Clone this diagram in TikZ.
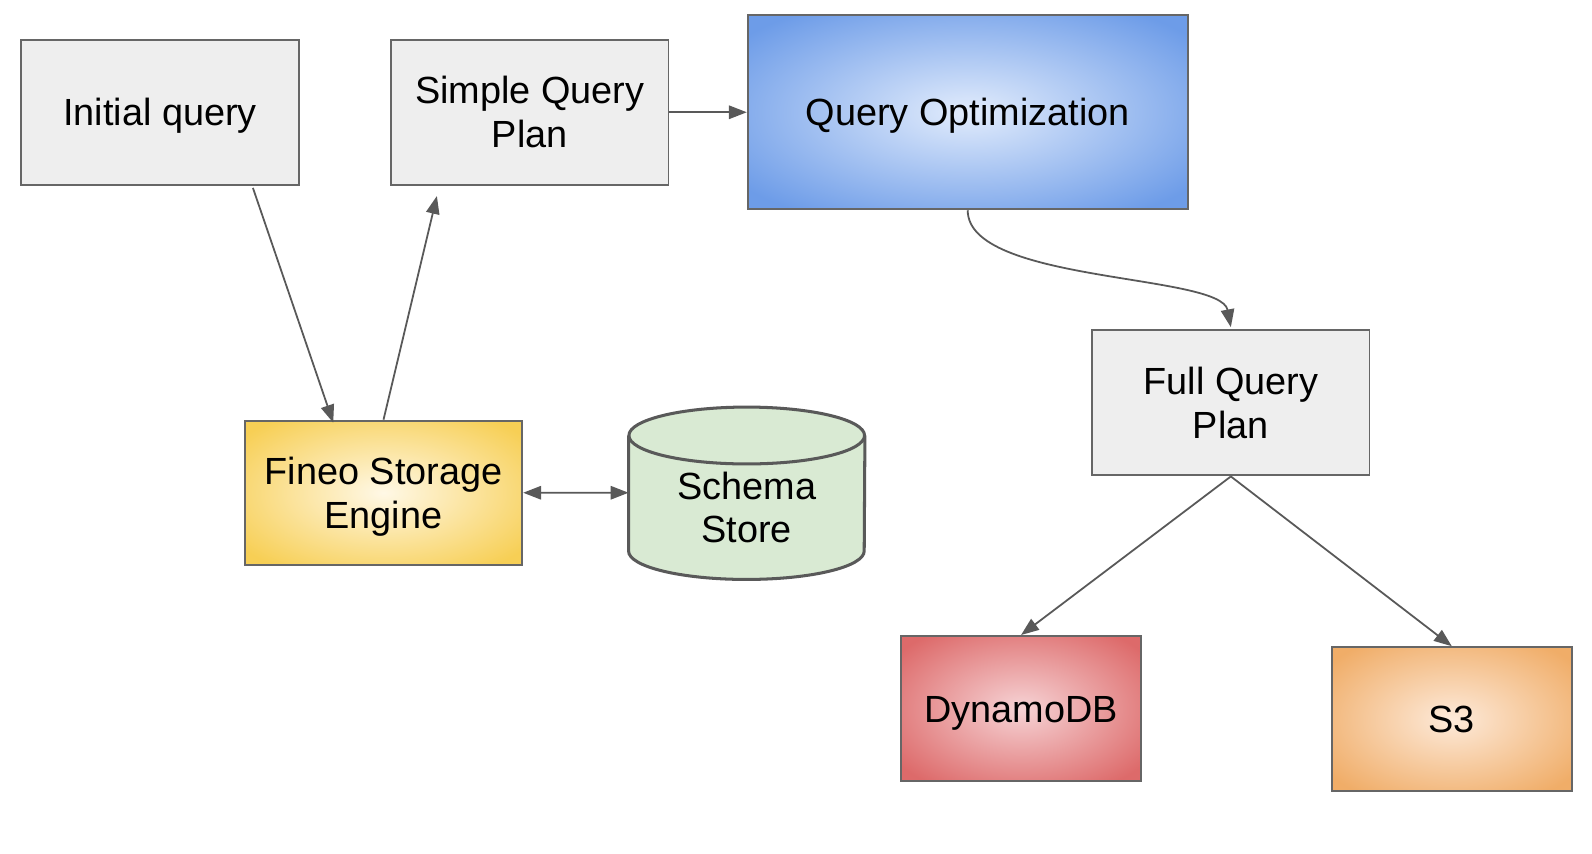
\documentclass[tikz,border=0pt]{standalone}
\usepackage{fontspec}
\setmainfont{Liberation Sans}
\usetikzlibrary{arrows.meta,backgrounds,calc}
\definecolor{edge}{HTML}{595959}
\definecolor{boxline}{HTML}{666666}
\definecolor{boxfill}{HTML}{EEEEEE}
\definecolor{cylfill}{HTML}{D9EAD3}
\definecolor{blueIn}{HTML}{E2ECFC}
\definecolor{blueOut}{HTML}{6D9CE8}
\definecolor{yelIn}{HTML}{FFF8E6}
\definecolor{yelOut}{HTML}{F7CF55}
\definecolor{redIn}{HTML}{F6D3D5}
\definecolor{redOut}{HTML}{DD6A6A}
\definecolor{orIn}{HTML}{FDEADA}
\definecolor{orOut}{HTML}{F0AD68}
\pgfdeclareradialshading{blueshade}{\pgfpoint{0bp}{0bp}}{color(0bp)=(blueIn); color(32bp)=(blueOut); color(50bp)=(blueOut)}
\pgfdeclareradialshading{yelshade}{\pgfpoint{0bp}{0bp}}{color(0bp)=(yelIn); color(32bp)=(yelOut); color(50bp)=(yelOut)}
\pgfdeclareradialshading{redshade}{\pgfpoint{0bp}{0bp}}{color(0bp)=(redIn); color(32bp)=(redOut); color(50bp)=(redOut)}
\pgfdeclareradialshading{orshade}{\pgfpoint{0bp}{0bp}}{color(0bp)=(orIn); color(32bp)=(orOut); color(50bp)=(orOut)}
\tikzset{
  x=0.02cm, y=0.02cm,
  txt/.style={font=\fontsize{21.2}{24.5}\selectfont, align=center, text=black, text height=15.2pt, text depth=0pt},
  two/.style={text height=39.7pt, text depth=0pt},
  plainbox/.style={txt, draw=boxline, line width=1.1pt, fill=boxfill, minimum width=5.46cm, minimum height=2.86cm, inner sep=0pt},
  gradbox/.style={txt, draw=boxline, line width=1.1pt, shading=#1, inner sep=0pt},
  conn/.style={draw=edge, line width=1pt, -{Triangle[length=10pt,width=7.5pt]}},
  conn2/.style={draw=edge, line width=1pt, {Triangle[length=10pt,width=7.5pt]}-{Triangle[length=10pt,width=7.5pt]}},
  cylline/.style={draw=edge, line width=1.7pt}
}
\begin{document}
\begin{tikzpicture}
\useasboundingbox (0,0) rectangle (1567,-840.5);
\node[plainbox] (init) at (157.5,-110.5) {Initial query};
\node[plainbox, two] (simple) at (521.5,-110.5) {Simple Query\\Plan};
\node[gradbox=blueshade, minimum width=8.66cm, minimum height=3.82cm] (opt) at (952.5,-110.5) {Query Optimization};
\node[plainbox, two] (full) at (1211.5,-396.5) {Full Query\\Plan};
\node[gradbox=yelshade, two, minimum width=5.46cm, minimum height=2.84cm] (fineo) at (377.5,-485) {Fineo Storage\\Engine};
\node[txt, two, minimum width=4.64cm, minimum height=2.82cm, inner sep=0pt] (schema) at (735,-499.5) {Schema\\Store};
\begin{scope}[on background layer]
\fill[cylfill] (schema.north west) -- ([yshift=0.56cm]schema.south west)
  arc[start angle=180, end angle=360, x radius=2.32cm, y radius=0.56cm]
  -- (schema.north east)
  arc[start angle=0, end angle=180, x radius=2.32cm, y radius=0.56cm] -- cycle;
\draw[cylline] (schema.north west) -- ([yshift=0.56cm]schema.south west)
  arc[start angle=180, end angle=360, x radius=2.32cm, y radius=0.56cm]
  -- (schema.north east);
\draw[cylline] (schema.north) ellipse[x radius=2.32cm, y radius=0.56cm];
\end{scope}
\node[gradbox=redshade, minimum width=4.72cm, minimum height=2.86cm] (dynamo) at (1005,-697.5) {DynamoDB};
\node[gradbox=orshade, minimum width=4.72cm, minimum height=2.84cm] (s3) at (1429,-708) {S3};
% connectors
\draw[conn] ([xshift=-0.92cm,yshift=-0.04cm]init.south east) -- ([xshift=-0.99cm,yshift=-0.06cm]fineo.north);
\draw[conn] (fineo.north) -- ([xshift=-1.83cm,yshift=-0.2cm]simple.south);
\draw[conn] (simple.east) -- (opt.west);
\draw[conn] (opt.south) .. controls ($(opt.south)+(0,-72)$) and ($(full.north)+(-10,55)$) .. ([yshift=0.04cm]full.north);
\draw[conn] (full.south) -- (dynamo.north);
\draw[conn] (full.south) -- (s3.north);
\draw[conn2] (fineo.east) -- ([yshift=0.29cm]schema.west);
\end{tikzpicture}
\end{document}
